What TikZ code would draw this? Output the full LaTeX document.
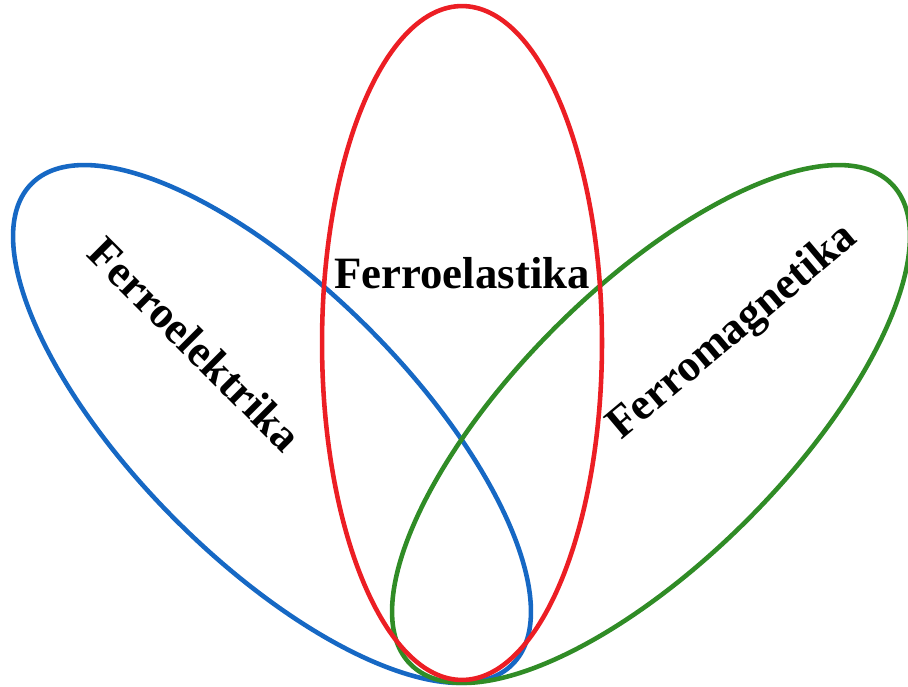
\documentclass[tikz,border=0pt]{standalone}
\usepackage{fontspec}
\setmainfont{Liberation Serif}
\usepackage{tikz}
\usetikzlibrary{shapes.geometric,positioning}

\definecolor{elekblue}{RGB}{22,104,196}
\definecolor{elasred}{RGB}{236,30,36}
\definecolor{magngreen}{RGB}{48,140,38}

\begin{document}
\begin{tikzpicture}[
  x=0.02cm, y=-0.02cm,
  petal/.style={draw, ellipse, line width=2.6pt, inner sep=0pt, minimum width=13.6cm, minimum height=5.44cm},
  ferro/.style={font=\bfseries\fontsize{25.5}{29}\selectfont, inner sep=0pt}
]
  \useasboundingbox (0,0) rectangle (908,686);

  % Ellipses
  \node[petal, draw=elekblue, rotate=-45] (elek) at (272,424) {};
  \node[petal, draw=magngreen, rotate=45] (magn) at (651,424) {};
  \node[petal, draw=elasred, minimum width=5.6cm, minimum height=13.48cm] (elas) at (462,343) {};

  % Labels
  \node[ferro] (elastxt) at (462,273) {Ferroelastika};
  \node[ferro, rotate=-45] (elektxt) at (195,344) {Ferroelektrika};
  \node[ferro, rotate=40] (magntxt) at (733,333) {Ferromagnetika};
\end{tikzpicture}
\end{document}
